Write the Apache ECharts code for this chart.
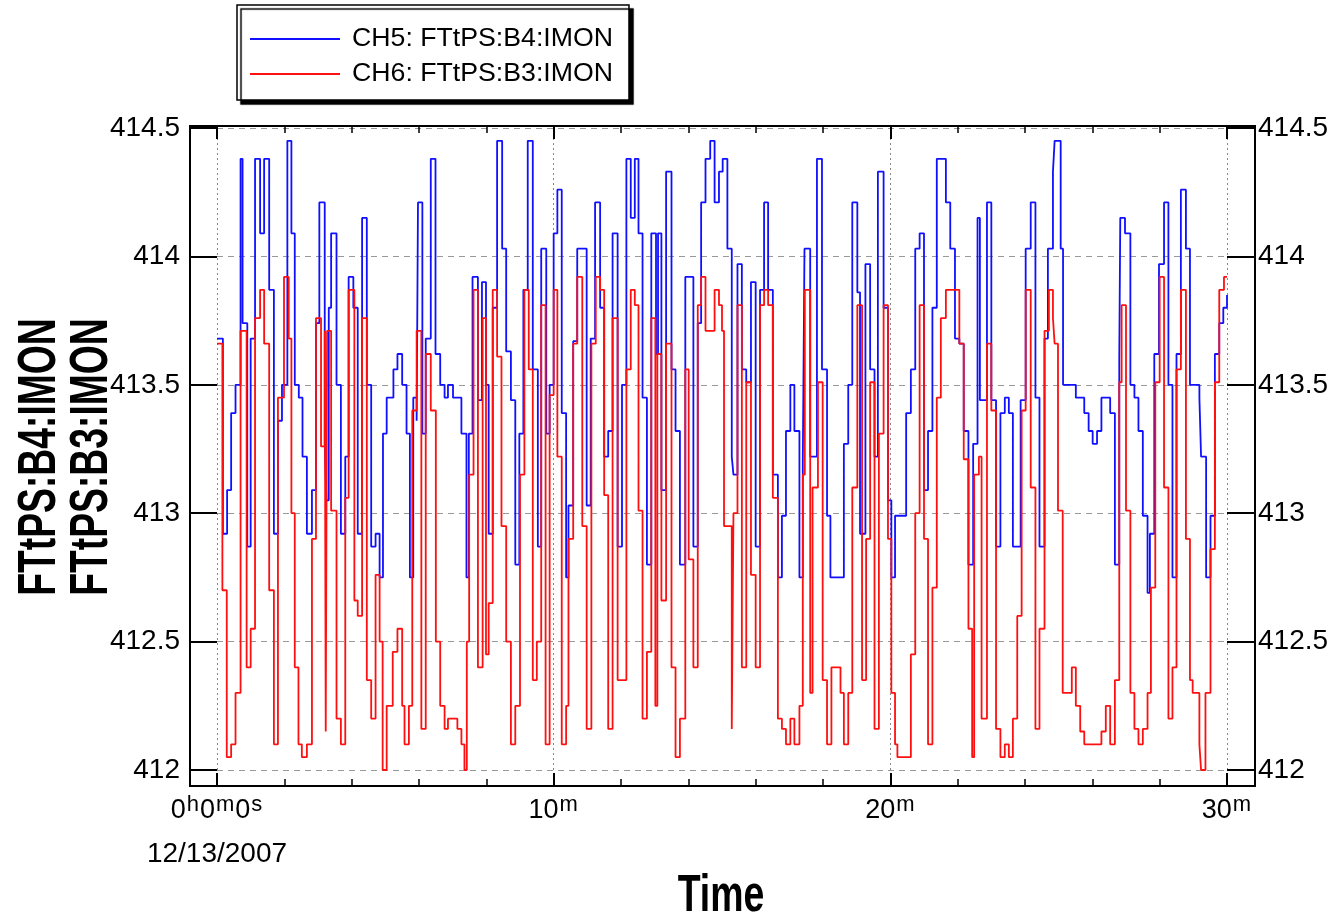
<!DOCTYPE html>
<html><head><meta charset="utf-8">
<script src="https://cdn.jsdelivr.net/npm/echarts@6/dist/echarts.min.js"></script>
<style>html,body{margin:0;padding:0;background:#fff}#chart{width:1340px;height:920px}</style>
</head><body><div id="chart"></div>
<script>
// Time in minutes from 0h0m0s (12/13/2007); each value holds until the next time (step plot)
const ch5Times = [0,0.175,0.30,0.42,0.55,0.70,0.76,0.90,1.00,1.13,1.28,1.40,1.55,1.69,1.81,1.93,2.09,2.21,2.31,2.43,
 2.54,2.67,2.82,2.94,3.04,3.20,3.25,3.32,3.39,3.55,3.68,3.81,3.91,4.05,4.18,4.31,4.45,4.58,4.71,4.83,4.93,
 5.04,5.24,5.36,5.50,5.63,5.73,5.83,5.93,5.97,6.10,6.20,6.35,6.49,6.63,6.76,6.86,7.01,7.26,7.41,7.48,
 7.59,7.75,7.87,7.99,8.07,8.19,8.32,8.47,8.59,8.73,8.86,8.98,9.10,9.23,9.38,9.53,9.63,9.78,9.88,10.0,
 10.11,10.24,10.37,10.44,10.58,10.70,10.98,11.10,11.23,11.38,11.50,11.62,11.75,11.90,12.03,12.16,12.29,12.41,12.52,
 12.64,12.77,12.90,13.04,13.10,13.20,13.34,13.50,13.62,13.75,13.91,14.15,14.28,14.38,14.51,14.65,14.78,14.91,15.02,
 15.16,15.29,15.34,15.46,15.59,15.72,15.86,16.00,16.13,16.25,16.37,16.51,16.66,16.78,16.90,17.03,17.15,17.30,17.40,17.45,
 17.62,17.82,17.97,18.12,18.22,18.62,18.75,18.87,19.02,19.10,19.26,19.40,19.53,19.63,19.80,19.93,20.03,20.14,
 20.47,20.61,20.74,20.87,21.00,21.12,21.25,21.38,21.65,21.78,21.92,22.05,22.18,22.32,22.46,22.59,
 22.66,22.87,23.00,23.14,23.27,23.40,23.52,23.64,23.87,24.02,24.17,24.31,24.43,24.58,24.68,24.83,24.88,25.06,25.13,
 25.51,25.76,25.89,26.01,26.14,26.27,26.53,26.67,26.80,26.83,26.97,27.13,27.25,27.37,27.50,27.64,
 27.71,27.84,27.98,28.13,28.26,28.38,28.50,28.63,28.78,28.90,29.18,29.23,29.38,29.51,29.64,29.77,29.89,30];
const ch5Values = [413.68,412.92,413.09,413.39,413.5,414.38,413.74,412.87,413.68,414.38,414.09,414.38,413.87,412.92,413.36,413.5,414.45,414.09,413.5,413.45,
 413.22,412.92,413.09,413.74,414.21,413.27,413.05,413.8,414.09,413.5,412.92,413.22,413.92,413.8,412.92,414.15,413.5,412.87,412.92,412.75,413.31,
 413.45,413.56,413.62,413.5,413.31,412.75,413.45,413.36,414.21,413.31,413.68,414.38,413.62,413.5,413.45,413.5,413.45,413.31,412.75,413.31,
 413.92,413.44,413.9,413.5,412.92,413.8,414.45,414.03,413.63,413.44,412.8,413.31,413.87,414.45,413.56,412.87,414.03,413.31,413.5,414.09,
 414.26,413.39,412.75,413.03,413.67,414.03,413.03,413.68,414.21,413.8,413.22,413.32,414.09,412.87,413.5,414.38,414.15,414.38,414.09,
 413.45,412.8,414.09,413.62,414.09,413.09,414.33,413.56,413.32,412.8,413.92,412.87,413.74,414.21,414.38,414.45,414.21,414.33,414.38,
 414.03,413.22,413.15,413.97,413.56,413.51,413.9,412.87,413.87,414.21,413.87,413.15,412.75,412.99,413.32,413.5,413.32,412.75,413.2,414.03,
 413.22,414.38,413.56,412.99,412.75,413.27,413.5,414.21,413.86,412.92,413.97,413.56,413.22,414.33,413.8,413.05,412.75,412.99,
 413.39,413.56,414.03,414.09,413.09,413.32,413.8,414.38,414.21,414.03,413.68,413.66,413.32,412.8,413.27,414.15,
 413.44,414.21,413.44,412.87,413.39,413.45,413.39,412.87,413.44,414.03,414.21,413.45,412.87,413.68,414.03,414.33,414.45,414.03,413.5,
 413.45,413.39,413.32,413.27,413.32,413.45,413.39,412.8,413.6,414.15,414.09,413.5,413.45,413.32,412.99,412.69,
 412.92,413.62,413.97,414.21,413.5,412.75,413.62,414.26,414.03,413.5,413.45,413.22,412.75,412.99,413.62,413.74,413.8,413.85];

const ch6Times = [0,0.16,0.29,0.42,0.55,0.70,0.88,1.00,1.13,1.28,1.40,1.55,1.69,1.81,1.99,2.13,2.21,2.31,2.42,
 2.52,2.67,2.82,2.94,3.09,3.20,3.23,3.27,3.39,3.55,3.68,3.81,3.91,4.08,4.18,4.31,4.45,4.58,4.71,4.83,4.92,
 5.04,5.22,5.36,5.50,5.57,5.70,5.80,5.93,6.07,6.20,6.35,6.50,6.63,6.76,6.86,7.14,7.26,7.35,7.42,7.49,
 7.62,7.75,7.89,7.99,8.07,8.19,8.32,8.45,8.59,8.73,8.86,9.00,9.13,9.26,9.38,9.50,9.63,9.76,9.88,10.0,
 10.11,10.24,10.37,10.44,10.58,10.70,10.85,10.98,11.12,11.25,11.38,11.50,11.62,11.75,11.90,12.16,12.29,12.41,12.52,
 12.64,12.77,12.90,13.02,13.08,13.20,13.34,13.50,13.62,13.75,13.91,14.01,14.15,14.28,14.38,14.51,14.78,14.91,15.0,15.06,
 15.29,15.34,15.46,15.59,15.72,15.86,16.00,16.13,16.25,16.37,16.51,16.66,16.78,16.90,17.03,17.15,17.30,17.40,17.46,
 17.62,17.69,17.85,17.99,18.12,18.25,18.52,18.62,18.75,18.87,19.02,19.16,19.28,19.40,19.53,19.66,19.80,19.93,20.03,20.14,20.21,
 20.61,20.74,20.87,21.00,21.12,21.25,21.38,21.50,21.65,22.05,22.18,22.32,22.43,22.49,22.63,
 22.71,22.87,23.00,23.14,23.27,23.40,23.52,23.64,23.77,23.90,24.02,24.17,24.31,24.43,24.58,24.71,24.83,24.88,24.98,25.12,
 25.39,25.51,25.64,25.76,26.27,26.40,26.53,26.67,26.80,26.87,27.00,27.13,27.25,27.37,27.50,27.64,
 27.74,27.87,28.00,28.13,28.26,28.38,28.50,28.63,28.78,28.90,28.98,29.18,29.23,29.36,29.51,29.64,29.77,29.91,30];
const ch6Values = [413.66,412.7,412.05,412.1,412.3,413.71,412.4,412.55,413.76,413.87,413.66,412.7,412.1,413.45,413.92,413.68,413.0,412.4,412.1,
 412.05,412.1,412.9,413.76,413.26,413.71,412.15,413.71,413.01,412.2,412.1,413.06,413.87,412.66,412.6,413.76,412.35,412.2,412.76,412.5,412.0,
 412.25,412.46,412.55,412.25,412.1,412.25,413.4,413.71,412.16,413.62,413.4,412.5,412.25,412.16,412.2,412.16,412.1,412.0,412.5,413.15,
 413.87,412.4,413.76,412.45,412.65,413.87,413.61,412.95,412.5,412.1,412.25,413.15,413.87,413.56,412.35,412.5,413.81,412.1,413.46,413.87,
 413.22,412.1,412.25,412.9,413.66,413.92,412.95,412.16,413.66,413.92,413.87,413.07,412.16,413.76,412.35,413.56,413.87,413.81,413.01,
 412.2,412.46,413.76,412.25,413.62,412.66,413.66,412.4,412.05,412.2,413.56,412.82,412.4,413.81,413.92,413.71,413.87,413.81,413.71,412.95,
 412.16,413.0,413.81,412.4,413.51,412.76,412.4,413.81,413.87,413.81,413.06,412.2,412.16,412.1,412.2,412.1,412.25,413.15,413.87,
 412.3,413.1,413.51,412.35,412.1,412.4,412.3,412.1,412.3,413.1,413.81,412.35,412.9,413.51,412.16,413.31,413.81,412.9,412.3,412.1,412.05,
 412.45,413.0,413.81,412.9,412.1,412.71,413.45,413.76,413.87,413.66,413.21,412.55,412.05,413.15,413.22,
 412.2,413.66,413.4,412.16,412.05,412.1,412.05,412.2,412.6,413.4,413.87,413.1,412.16,412.55,413.71,413.87,413.76,413.66,413.01,412.3,
 412.4,412.25,412.15,412.1,412.15,412.25,412.1,412.35,413.51,413.81,413.01,412.3,412.16,412.1,412.16,412.3,
 412.71,413.51,413.92,413.1,412.2,412.4,413.56,413.87,412.9,412.35,412.3,412.1,412.0,412.3,412.86,413.51,413.87,413.92,413.92];

const seriesNames = ['CH5: FTtPS:B4:IMON', 'CH6: FTtPS:B3:IMON'];
const seriesColors = ['#1010ff', '#ff1010'];
const yAxisTitles = ['FTtPS:B4:IMON', 'FTtPS:B3:IMON'];
const xAxisTitle = 'Time';
const dateLabel = '12/13/2007';
const xMin = 0, xMax = 30, xStep = 10;
const yMin = 412, yMax = 414.5, yStep = 0.5;

function pairs(ts, vs) { const n = Math.min(ts.length, vs.length); const out = []; for (let i = 0; i < n; i++) out.push([ts[i], vs[i]]); return out; }

const FONT = 'Liberation Sans, Arial, sans-serif';

function xLabel(v) {
  if (v === 0) return '{n|0}{s|h}{n|0}{s|m}{n|0}{s|s}\n{d|' + dateLabel + '}';
  return '{n|' + v + '}{s|m}';
}

const chart = echarts.init(document.getElementById('chart'), null, {renderer: 'canvas'});
const tickStyle = {color: '#000', width: 2};
const baseX = {
  type: 'value', min: xMin, max: xMax, interval: xStep,
  axisLine: {show: false, onZero: false},
  axisTick: {show: true, inside: true, length: 13, lineStyle: tickStyle},
  minorTick: {show: true, splitNumber: 5, length: 7, lineStyle: {color: '#000', width: 1.5}},
  minorSplitLine: {show: false}
};
const baseY = {
  type: 'value', min: yMin, max: yMax, interval: yStep,
  axisLine: {show: false, onZero: false},
  axisLabel: {color: '#000', fontSize: 28, fontFamily: FONT}
};

function titleText(txt, x, y, rot, scale, size) {
  return {
    type: 'text', silent: true, x: x, y: y, rotation: rot, scaleX: scale, scaleY: 1,
    style: {text: txt, fill: '#000', font: 'bold ' + size + 'px Liberation Sans, Arial, sans-serif',
            textAlign: 'center', textVerticalAlign: 'middle', align: 'center', verticalAlign: 'middle'}
  };
}

chart.setOption({
  animation: false,
  textStyle: {fontFamily: FONT},
  grid: {left: 217, right: 113, top: 128, bottom: 150, containLabel: false, outerBoundsMode: 'none'},
  legend: {
    orient: 'vertical', left: 237, top: 5,
    data: seriesNames,
    icon: 'rect', itemWidth: 90, itemHeight: 2, itemGap: 5,
    padding: [19, 16, 11, 13],
    backgroundColor: '#fff', borderColor: '#000', borderWidth: 1.5,
    shadowColor: '#000', shadowOffsetX: 4, shadowOffsetY: 4, shadowBlur: 1,
    textStyle: {color: '#000', fontSize: 26.7, fontFamily: FONT, lineHeight: 30, padding: [0, 0, 0, 7]}
  },
  xAxis: [
    Object.assign({}, baseX, {
      position: 'bottom', offset: 16,
      splitLine: {show: true, lineStyle: {color: '#888', type: [2, 3], width: 1}},
      axisLabel: {
        margin: 8, formatter: xLabel, color: '#000',
        rich: {
          n: {fontSize: 27, fontFamily: FONT, color: '#000', lineHeight: 34},
          s: {fontSize: 22, fontFamily: FONT, color: '#000', lineHeight: 20, verticalAlign: 'top', padding: [0, 1, 0, 1]},
          d: {fontSize: 28, fontFamily: FONT, color: '#000', lineHeight: 52}
        }
      }
    }),
    Object.assign({}, baseX, {
      position: 'top', offset: 2,
      splitLine: {show: false}, axisLabel: {show: false}
    })
  ],
  yAxis: [
    Object.assign({}, baseY, {
      position: 'left',
      axisTick: {show: true, inside: false, length: 27, lineStyle: tickStyle},
      axisLabel: Object.assign({}, baseY.axisLabel, {margin: 37}),
      splitLine: {show: true, lineStyle: {color: '#999', type: [6, 5], width: 1}}
    }),
    Object.assign({}, baseY, {
      position: 'right',
      axisTick: {show: true, inside: false, length: 28, lineStyle: tickStyle},
      axisLabel: Object.assign({}, baseY.axisLabel, {margin: 31}),
      splitLine: {show: false}
    })
  ],
  graphic: [
    {type: 'rect', silent: true, z: 100,
     shape: {x: 190, y: 126, width: 1065, height: 660},
     style: {fill: 'none', stroke: '#000', lineWidth: 2}},
    titleText(yAxisTitles[0], 40, 457, Math.PI / 2, 0.69, 54),
    titleText(yAxisTitles[1], 92, 457, Math.PI / 2, 0.69, 54),
    titleText(xAxisTitle, 721, 897, 0, 0.72, 52)
  ],
  series: [
    {name: seriesNames[0], type: 'line', step: 'end', data: pairs(ch5Times, ch5Values),
     showSymbol: false, symbol: 'none', color: seriesColors[0], lineStyle: {width: 1.8, color: seriesColors[0]}, z: 2},
    {name: seriesNames[1], type: 'line', step: 'end', data: pairs(ch6Times, ch6Values),
     showSymbol: false, symbol: 'none', color: seriesColors[1], lineStyle: {width: 1.8, color: seriesColors[1]}, z: 3}
  ]
});
</script>
</body></html>
